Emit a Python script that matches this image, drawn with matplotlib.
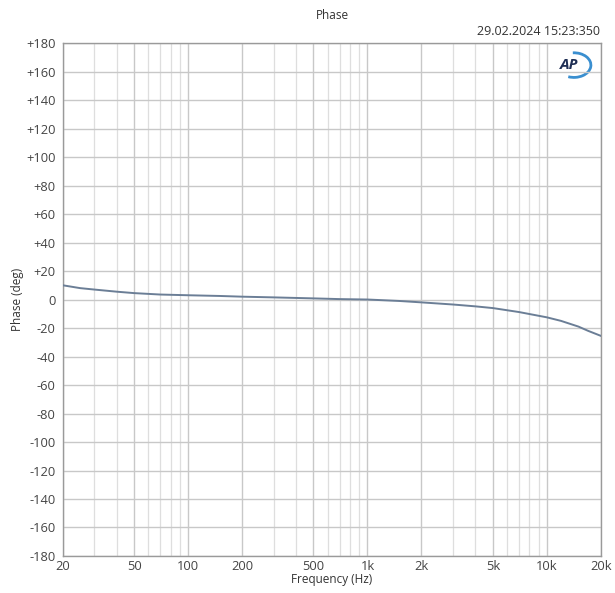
import matplotlib
matplotlib.use('Agg')
import matplotlib.pyplot as plt
from matplotlib.patches import Arc
import numpy as np

# 频率与相位数据
freq = [20, 25, 30, 40, 50, 70, 100, 150, 200, 300, 500, 700, 1000, 1500, 2000,
        3000, 4000, 5000, 7000, 10000, 12000, 15000, 17000, 20000]
phase = [10, 8, 7, 5.5, 4.5, 3.5, 3, 2.5, 2, 1.5, 0.8, 0.3, 0, -1, -2,
         -3.5, -4.8, -6, -8.8, -12.5, -15, -19, -22, -25.5]

major_ticks = [20, 50, 100, 200, 500, 1000, 2000, 5000, 10000, 20000]
major_labels = ['20', '50', '100', '200', '500', '1k', '2k', '5k', '10k', '20k']
minor_ticks = [30, 40, 60, 70, 80, 90, 300, 400, 600, 700, 800, 900,
               3000, 4000, 6000, 7000, 8000, 9000]
y_ticks = list(range(-180, 181, 20))

plt.rcParams['font.family'] = ['Open Sans', 'DejaVu Sans']

fig = plt.figure(figsize=(6.15, 5.93), dpi=100)
ax = fig.add_axes([0.102, 0.0624, 0.875, 0.865])

ax.semilogx(freq, phase, color='#6b7e96', linewidth=1.4, zorder=3)

ax.set_xlim(20, 20000)
ax.set_ylim(-180, 180)

ax.set_xticks(major_ticks)
ax.set_xticklabels(major_labels)
ax.set_xticks(minor_ticks, minor=True)
ax.xaxis.set_minor_formatter(plt.NullFormatter())
ax.set_yticks(y_ticks)
ax.set_yticklabels(['+%d' % v if v > 0 else '%d' % v for v in y_ticks])

ax.grid(True, which='major', color='#c8c8c8', linewidth=1.0)
ax.grid(True, which='minor', axis='x', color='#dedede', linewidth=0.9)
ax.tick_params(which='both', length=0, labelsize=9.3, colors='#444444', pad=5)
ax.tick_params(axis='x', pad=3)
for s in ax.spines.values():
    s.set_color('#9a9a9a')
    s.set_linewidth(1.0)

ax.set_xlabel('Frequency (Hz)', fontsize=8.5, color='#333333', labelpad=0)
ax.set_ylabel('Phase (deg)', fontsize=8.5, color='#333333', labelpad=2)

fig.text(0.54, 0.974, 'Phase', ha='center', va='center', fontsize=8.5, color='#333333')
fig.text(0.975, 0.947, '29.02.2024 15:23:350', ha='right', va='center', fontsize=9, color='#333333')

# AP 标志
ax.text(0.942, 0.957, 'AP', transform=ax.transAxes, ha='center', va='center',
        fontsize=11, fontweight='bold', fontstyle='italic', color='#1f2f55')
ax.add_patch(Arc((0.950, 0.957), 0.063, 0.048, theta1=-115, theta2=95,
                 transform=ax.transAxes, color='#3a8fd0', linewidth=2.0))

plt.savefig('out.png', dpi=100)
